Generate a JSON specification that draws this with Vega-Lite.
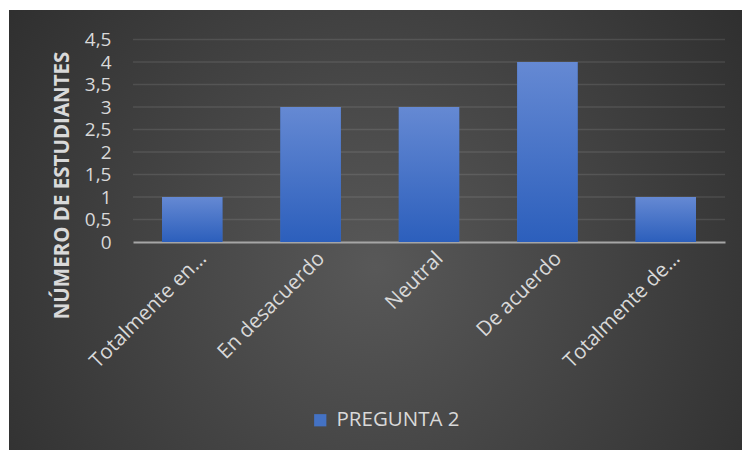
{
  "$schema": "https://vega.github.io/schema/vega-lite/v6.json",
  "width": 733,
  "height": 440,
  "autosize": {"type": "none"},
  "padding": {"left": 9, "top": 10, "right": 0, "bottom": 0},
  "background": "#ffffff",
  "config": {
    "font": "Open Sans",
    "view": {
      "stroke": null,
      "fill": {
        "gradient": "radial",
        "x1": 0.5, "y1": 0.55, "r1": 0,
        "x2": 0.5, "y2": 0.55, "r2": 0.75,
        "stops": [
          {"offset": 0, "color": "#585858"},
          {"offset": 1, "color": "#262626"}
        ]
      }
    }
  },
  "datasets": {
    "bars": [
      {"respuesta": "Totalmente en…", "n": 1, "serie": "PREGUNTA 2"},
      {"respuesta": "En desacuerdo", "n": 3, "serie": "PREGUNTA 2"},
      {"respuesta": "Neutral", "n": 3, "serie": "PREGUNTA 2"},
      {"respuesta": "De acuerdo", "n": 4, "serie": "PREGUNTA 2"},
      {"respuesta": "Totalmente de…", "n": 1, "serie": "PREGUNTA 2"}
    ],
    "grid": [{"v": 0.5}, {"v": 1}, {"v": 1.5}, {"v": 2}, {"v": 2.5}, {"v": 3}, {"v": 3.5}, {"v": 4}, {"v": 4.5}]
  },
  "layer": [
    {
      "data": {"name": "grid"},
      "mark": {"type": "rule", "stroke": "#ffffff", "strokeOpacity": 0.1, "strokeWidth": 1.5},
      "encoding": {
        "y": {
          "field": "v", "type": "quantitative",
          "scale": {"domain": [0, 4.5], "range": [232, 29.5], "nice": false, "zero": true},
          "axis": {
            "orient": "left", "offset": -124, "grid": false, "domain": false, "ticks": false,
            "values": [0, 0.5, 1, 1.5, 2, 2.5, 3, 3.5, 4, 4.5],
            "labelExpr": "replace(format(datum.value, '.1~f'), '.', ',')",
            "labelColor": "#d9d9d9", "labelFontSize": 19, "labelPadding": 22, "labelFont": "Open Sans",
            "labelBaseline": "middle",
            "title": "NÚMERO DE ESTUDIANTES", "titleColor": "#d9d9d9", "titleFontSize": 20.5,
            "titleFontWeight": "bold", "titleFont": "Open Sans",
            "titleAngle": -90, "titleAlign": "center", "titleBaseline": "middle",
            "titleX": -71, "titleY": 175
          }
        },
        "x": {"datum": 0, "type": "quantitative", "scale": {"domain": [0, 1], "range": [124, 716]}, "axis": null},
        "x2": {"datum": 1}
      }
    },
    {
      "data": {"name": "bars"},
      "layer": [
        {
          "mark": {"type": "bar"},
          "encoding": {
            "color": {
              "field": "serie", "type": "nominal",
              "scale": {"range": ["#4472c4"]},
              "legend": {
                "orient": "none", "legendX": 301, "legendY": 400, "title": null,
                "symbolType": "square", "symbolSize": 150, "symbolStrokeWidth": 0,
                "labelColor": "#d9d9d9", "labelFontSize": 20.5, "labelFont": "Open Sans", "labelOffset": 6
              }
            }
          }
        },
        {
          "mark": {
            "type": "bar",
            "color": {
              "gradient": "linear", "x1": 0, "y1": 0, "x2": 0, "y2": 1,
              "stops": [{"offset": 0, "color": "#6589d3"}, {"offset": 1, "color": "#2c5fbc"}]
            }
          },
          "encoding": {}
        }
      ],
      "encoding": {
        "x": {
          "field": "respuesta", "type": "nominal", "sort": null,
          "scale": {"range": [124, 716], "paddingInner": 0.49, "paddingOuter": 0.245},
          "axis": {
            "orient": "bottom", "offset": -208, "title": null, "ticks": false,
            "domainColor": "#a6a6a6", "domainWidth": 2,
            "labelAngle": -45, "labelAlign": "right", "labelBaseline": "middle",
            "labelOffset": 11, "labelPadding": 13,
            "labelColor": "#d9d9d9", "labelFontSize": 20.5, "labelFont": "Open Sans"
          }
        },
        "y": {
          "field": "n", "type": "quantitative",
          "scale": {"domain": [0, 4.5], "range": [232, 29.5], "nice": false, "zero": true}
        }
      }
    }
  ],
  "resolve": {"scale": {"x": "independent"}}
}
